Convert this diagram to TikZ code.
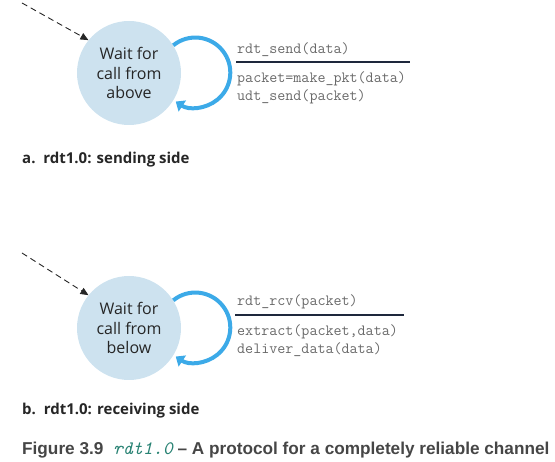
\documentclass[tikz,border=0pt]{standalone}
\usepackage{fontspec}
\setmainfont{Open Sans}
\newfontfamily\capfont{Liberation Sans}
\usetikzlibrary{arrows.meta}
\definecolor{statefill}{RGB}{205,226,239}
\definecolor{loopblue}{RGB}{60,170,232}
\definecolor{codegray}{RGB}{105,105,105}
\definecolor{rulenavy}{RGB}{30,40,60}
\definecolor{capgray}{RGB}{70,70,70}
\definecolor{capteal}{RGB}{40,130,115}
\begin{document}
\begin{tikzpicture}[x=1pt,y=-1pt,
  state/.style={circle,fill=statefill,minimum size=104pt,inner sep=0pt,align=center,
    font=\fontsize{16}{19.5}\selectfont,text=black!85},
  initarrow/.style={draw=black!85,line width=0.9pt,dash pattern=on 6pt off 4pt,-{Triangle[width=7pt,length=8pt]}},
  selfloop/.style={draw=loopblue,line width=4pt,-{Triangle[width=13pt,length=8pt]}},
  code/.style={anchor=west,inner sep=0pt,font=\ttfamily\fontsize{15.6}{18}\selectfont,text=codegray},
  rulebar/.style={draw=rulenavy,line width=1.1pt},
  sublabel/.style={anchor=west,inner sep=0pt,font=\bfseries\fontsize{15}{18}\selectfont,text=black!85},
  caption/.style={anchor=west,inner sep=0pt,font=\capfont\bfseries\fontsize{17.2}{20}\selectfont,text=capgray}]
\useasboundingbox (0,0) rectangle (555,462);
% sending side
\node[state] (s1) at (129,73) {Wait for\\call from\\above};
\coordinate (i1) at (22,3);
\draw[initarrow] (i1) -- (s1.141);
\draw[selfloop] (s1.32) arc[start angle=-129,end angle=124,radius=35];
\node[code] (e1) at (237,50) {rdt\_send(data)};
\coordinate (r1a) at (236,62);
\coordinate (r1b) at (410,62);
\draw[rulebar] (r1a) -- (r1b);
\node[code] (a1) at (237,79) {packet=make\_pkt(data)};
\node[code] (a2) at (237,97) {udt\_send(packet)};
\node[sublabel] (l1) at (22,160) {a.\ \ rdt1.0: sending side};
% receiving side
\node[state] (s2) at (129,328) {Wait for\\call from\\below};
\coordinate (i2) at (22,253);
\draw[initarrow] (i2) -- (s2.141);
\draw[selfloop] (s2.32) arc[start angle=-129,end angle=124,radius=35];
\node[code] (e2) at (237,302) {rdt\_rcv(packet)};
\coordinate (r2a) at (235,315);
\coordinate (r2b) at (404,315);
\draw[rulebar] (r2a) -- (r2b);
\node[code] (b1) at (237,332) {extract(packet,data)};
\node[code] (b2) at (237,350) {deliver\_data(data)};
\node[sublabel] (l2) at (22,411) {b.\ \ rdt1.0: receiving side};
% caption
\node[caption] (cap) at (22,450) {Figure 3.9\ \ {\color{capteal}\ttfamily\mdseries\itshape\fontsize{19}{20}\selectfont rdt1.0} \textendash\ A protocol for a completely reliable channel};
\end{tikzpicture}
\end{document}
